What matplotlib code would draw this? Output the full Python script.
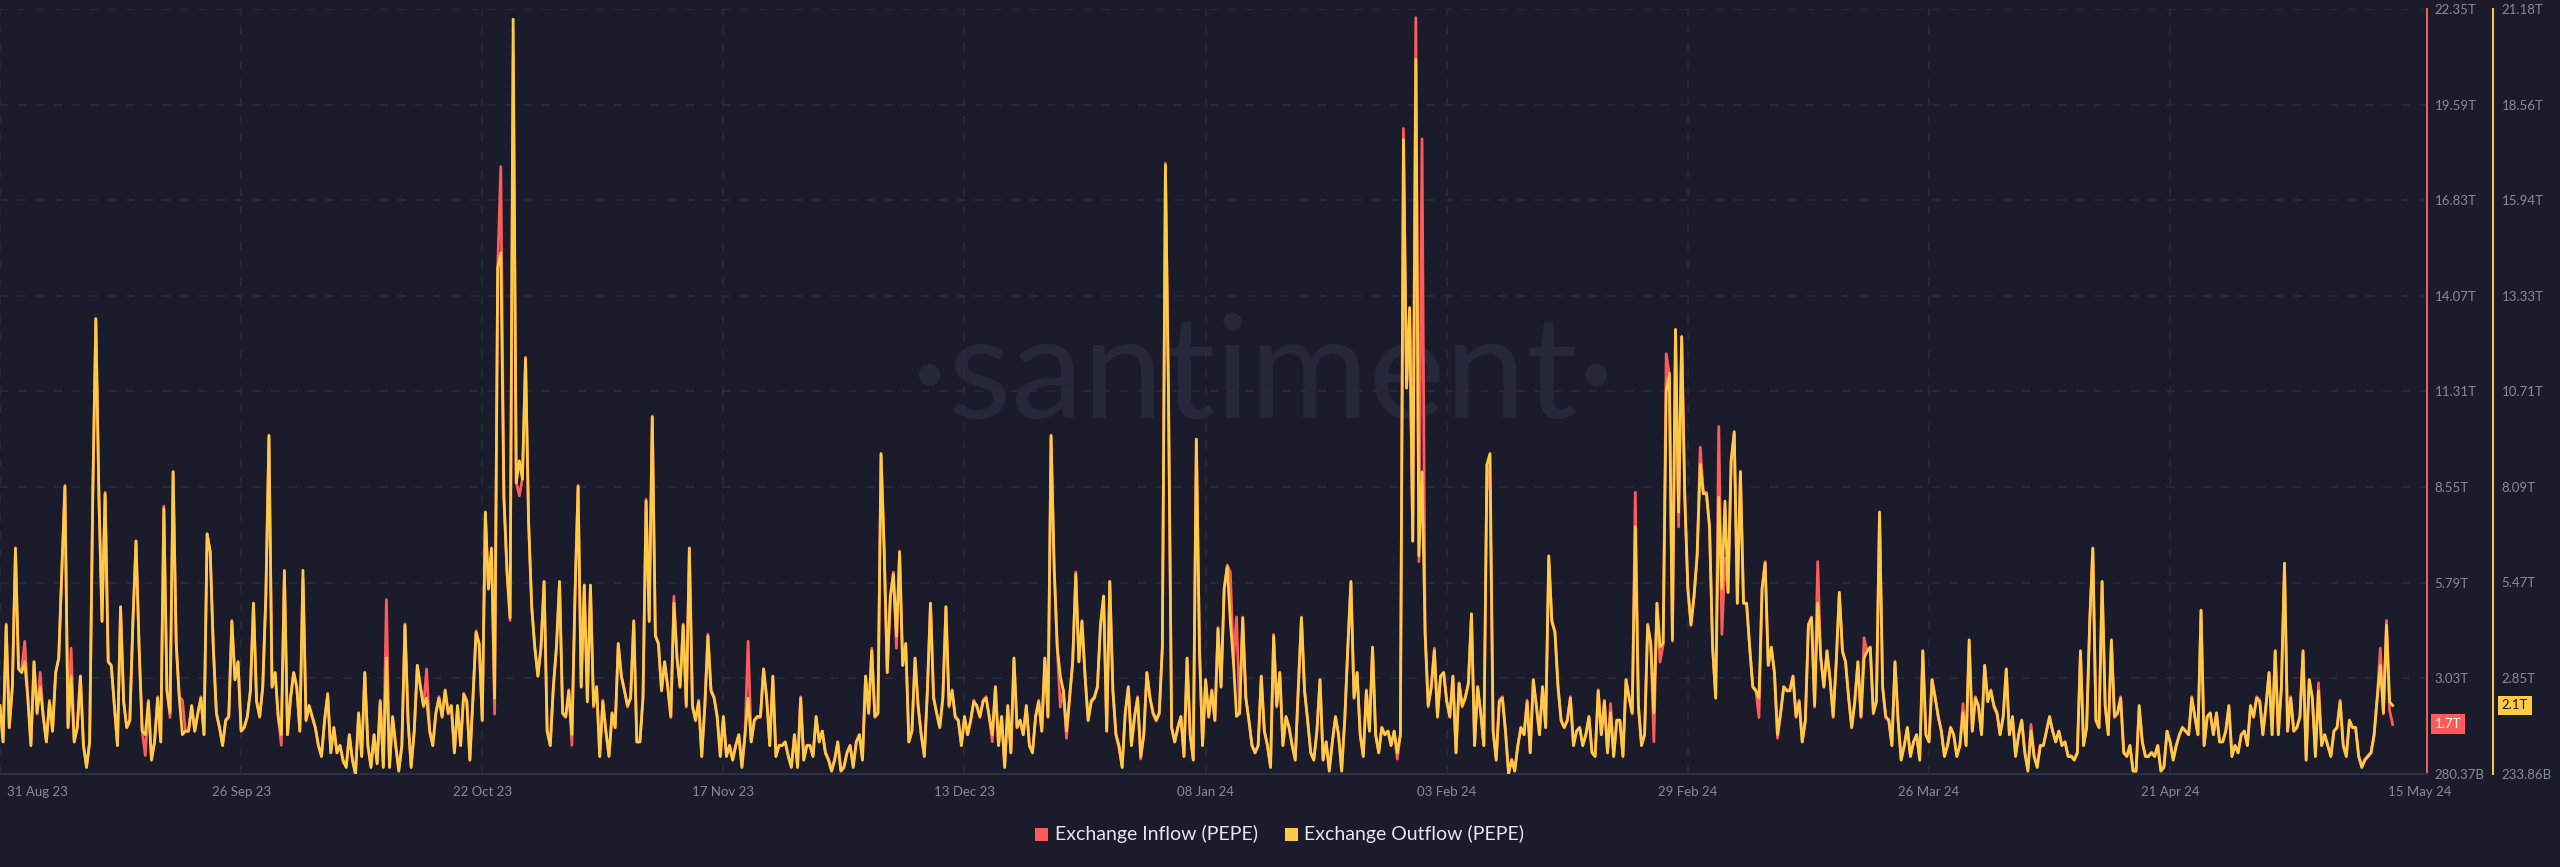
import numpy as np
import matplotlib
matplotlib.use("Agg")
import matplotlib.pyplot as plt
from matplotlib.transforms import blended_transform_factory
from matplotlib.patches import Rectangle

# ---------------- data (values in trillions of PEPE, 8-hour steps) ----------------
start_time = "2023-08-31T00:00"
step_hours = 8

outflow_T = [
    2.1,1.1,4.3,1.5,2.6,6.4,3.1,3.0,3.3,2.3,
    1.0,3.3,1.9,2.6,1.8,1.1,2.2,1.4,3.0,3.4,
    5.8,8.1,1.5,2.9,1.1,1.5,2.9,1.0,0.4,1.1,
    7.8,12.7,7.8,4.4,7.9,3.3,3.2,2.1,1.0,4.8,
    2.2,1.5,1.7,4.4,6.6,3.7,1.4,1.3,2.2,0.6,
    1.1,2.3,1.1,7.5,2.5,1.9,8.5,3.8,2.3,1.3,
    1.4,1.4,2.1,1.4,1.9,2.3,1.3,6.8,6.3,3.7,
    1.9,1.5,1.0,1.7,1.8,4.4,2.8,3.3,1.4,1.5,
    1.8,2.5,4.9,2.2,1.8,2.6,5.1,9.5,2.6,3.0,
    1.8,1.3,5.8,1.3,2.3,3.0,2.6,1.4,5.8,1.7,
    2.1,1.8,1.5,1.0,0.7,1.7,2.4,0.8,1.5,0.8,
    1.0,0.6,0.4,1.3,0.6,0.2,1.9,0.7,3.0,1.0,
    0.4,1.3,0.5,2.2,0.4,3.4,0.4,1.8,1.0,0.3,
    1.0,4.3,1.7,0.4,1.4,3.2,2.6,2.1,2.3,1.4,
    1.0,1.9,2.3,1.8,2.5,1.9,2.1,0.8,2.1,1.0,
    2.4,2.2,0.6,2.3,4.1,3.8,1.7,7.4,5.3,6.4,
    2.3,14.1,14.5,7.8,5.8,4.5,20.9,8.2,8.8,8.3,
    11.6,7.1,4.8,3.7,2.9,3.7,5.5,1.4,1.0,2.6,
    3.7,5.5,1.9,1.8,2.5,1.3,5.1,8.1,2.6,5.4,
    2.2,5.4,2.1,2.6,0.7,2.2,1.4,0.7,1.9,1.5,
    3.8,2.9,2.5,2.1,2.3,4.4,1.1,1.1,2.3,7.7,
    4.4,10.0,4.0,3.8,2.5,3.3,2.6,1.8,4.9,3.4,
    2.6,4.3,2.1,6.4,2.1,1.7,2.2,0.7,2.1,4.0,
    2.5,2.3,1.8,0.7,1.8,0.7,1.0,0.6,1.0,1.3,
    0.4,1.3,2.3,1.1,1.7,1.8,1.8,3.1,2.3,1.0,
    2.9,0.7,1.0,1.0,1.1,0.7,0.4,1.3,0.4,2.3,
    0.6,1.0,
    1.0,0.7,1.8,1.1,1.4,0.8,0.6,0.3,0.6,1.1,
    0.3,0.4,0.8,1.0,0.4,1.1,1.3,0.6,2.9,1.9,
    3.6,1.8,1.9,9.0,6.4,3.0,5.1,5.7,4.0,6.3,
    3.2,3.8,1.1,1.4,3.4,2.1,1.3,0.7,2.5,4.9,
    2.3,1.9,1.5,2.3,4.8,2.1,2.5,1.8,1.7,1.0,
    1.8,1.3,1.7,2.2,2.1,1.8,2.2,2.3,1.8,1.3,
    2.6,1.0,1.8,0.4,2.1,0.8,3.4,1.5,1.7,1.3,
    2.1,1.0,0.8,1.8,2.2,1.4,3.4,1.8,9.5,5.9,
    3.7,2.9,2.5,1.4,2.3,3.3,5.7,3.3,4.4,2.9,
    1.7,2.2,2.3,2.6,4.3,5.1,1.4,5.5,2.5,1.3,
    1.0,0.4,1.9,2.6,1.0,1.8,2.3,0.7,1.3,3.0,
    2.3,1.9,1.7,1.9,3.7,16.9,10.5,1.5,1.1,1.5,
    1.8,0.7,3.4,1.3,0.6,9.4,3.7,1.0,2.8,1.8,
    2.5,1.7,4.2,2.6,5.3,5.9,4.4,3.3,1.8,1.9,
    4.5,2.3,1.7,1.0,0.8,1.0,2.9,1.4,1.0,0.4,
    4.0,2.1,3.0,1.0,1.8,1.5,1.0,0.6,2.6,4.5,
    2.5,1.7,0.8,0.6,1.4,2.8,0.6,1.1,0.3,1.1,
    1.8,1.3,0.3,1.7,3.7,5.5,2.3,3.0,1.3,0.7,
    2.5,1.4,3.7,1.3,0.8,1.5,1.3,1.4,1.0,1.4,
    0.8,1.3,17.6,10.8,13.0,6.6,19.8,6.2,8.5,4.1,
    2.1,2.6,3.6,1.8,2.9,3.0,2.2,1.8,2.9,0.8,
    2.7,2.1,2.3,2.7,4.6,1.0,2.6,1.9,1.0,8.7,
    9.0,1.4,0.6,2.2,2.3,1.4,0.23,0.6,0.3,1.0,
    1.5,1.3,2.2,0.8,2.8,2.1,1.3,2.6,1.5,6.2,
    4.4,4.1,2.6,1.7,1.5,1.7,2.3,1.0,1.4,1.5,
    1.0,1.3,1.8,0.8,0.7,2.5,1.3,2.2,0.8,1.9,
    0.7,1.7,
    1.7,0.7,2.8,2.3,1.9,7.0,2.1,1.0,1.3,4.3,
    3.8,1.9,4.9,3.7,3.8,10.7,11.2,3.9,12.4,7.4,
    12.2,7.8,5.3,4.3,5.1,6.2,8.7,7.9,7.9,7.0,
    3.7,2.3,7.8,5.3,7.7,5.2,8.8,9.6,4.9,8.5,
    4.9,4.9,3.7,2.6,2.5,2.3,5.3,6.0,3.2,3.7,
    3.0,1.3,1.9,2.6,2.5,2.5,2.9,1.8,2.2,1.1,
    1.7,4.3,4.5,2.1,4.9,3.4,2.6,3.6,2.8,1.8,
    3.3,5.2,3.6,3.3,2.3,1.5,2.2,3.3,1.8,3.4,
    3.6,3.7,1.9,2.2,7.4,2.6,1.8,1.7,1.0,3.3,
    1.7,0.6,1.0,1.5,0.7,1.1,1.3,0.6,3.6,1.3,
    1.1,2.8,2.3,1.8,1.4,0.7,1.0,1.5,1.3,0.7,
    1.0,1.9,1.0,3.9,1.4,2.3,2.1,1.3,3.2,2.2,
    2.5,2.1,1.9,1.3,1.8,3.1,1.3,1.8,0.7,1.3,
    1.7,0.8,0.3,1.4,0.7,0.4,1.0,1.0,1.4,1.8,
    1.4,1.1,1.4,1.0,1.1,0.7,0.7,0.6,0.8,3.6,
    1.0,1.5,4.4,6.4,1.7,1.5,5.5,2.1,1.3,3.9,
    1.8,1.9,2.3,0.8,0.7,1.0,0.3,0.3,2.1,1.1,
    0.7,0.7,0.8,0.7,1.0,0.3,0.4,1.4,1.1,0.6,
    1.0,1.3,1.5,1.4,1.3,2.3,1.8,1.3,4.7,1.0,
    1.8,1.9,1.3,1.9,1.1,1.1,1.4,2.1,0.7,1.0,
    0.8,1.3,1.4,1.0,2.1,1.8,2.3,2.2,1.3,2.1,
    3.0,1.3,3.6,1.3,2.6,6.0,1.4,2.3,1.4,1.5,
    1.8,3.6,0.6,2.8,2.3,0.7,2.5,1.0,1.3,1.0,
    0.7,1.4,1.5,2.2,1.0,0.7,1.7,1.5,1.5,0.7,
    0.4,0.6,0.7,0.8,1.3,2.3,3.2,1.9,4.3,2.2,
    2.1,
]

inflow_T = [
    2.2,1.2,4.6,1.6,2.8,6.8,3.3,3.3,4.1,2.5,
    1.1,3.5,2.0,3.2,1.9,1.2,2.4,1.5,3.2,3.6,
    6.1,8.6,1.6,3.9,1.2,1.6,3.1,1.1,0.5,1.2,
    8.3,13.4,8.3,4.7,8.4,3.5,3.4,2.2,1.1,5.1,
    2.4,1.6,1.8,4.7,7.0,3.9,1.5,0.8,2.4,0.7,
    1.2,2.5,1.2,8.0,2.7,1.9,9.0,4.0,2.5,2.4,
    1.5,1.5,2.2,1.5,2.0,2.5,1.4,7.2,6.7,3.9,
    2.0,1.6,1.1,1.8,1.9,4.7,3.0,3.5,1.5,1.6,
    1.9,2.7,5.2,2.4,1.9,2.8,5.4,10.0,2.8,3.2,
    1.9,1.1,6.1,1.4,2.5,3.2,2.8,1.5,5.9,1.8,
    2.2,1.9,1.6,1.1,0.8,1.8,2.6,0.9,1.6,0.9,
    1.1,0.6,0.5,1.4,0.7,0.3,2.0,0.8,3.2,1.1,
    0.5,1.4,0.6,2.4,0.5,5.3,0.5,1.9,1.1,0.4,
    1.1,4.6,1.8,0.5,1.5,3.4,2.8,2.2,3.3,1.5,
    1.1,2.0,2.5,1.9,2.7,2.0,2.2,0.9,2.2,1.1,
    2.6,2.4,0.7,2.5,4.4,4.0,1.8,7.8,5.6,6.8,
    2.0,14.9,17.8,8.3,6.1,4.7,21.0,8.7,8.3,8.8,
    12.3,7.5,5.1,3.9,3.1,3.9,5.8,1.5,1.1,2.8,
    3.9,5.8,2.0,1.9,2.7,1.1,5.4,8.6,2.8,5.7,
    2.4,5.7,2.2,2.8,0.8,2.4,1.5,0.8,2.0,1.6,
    4.0,3.1,2.7,2.2,2.5,4.7,1.2,1.2,2.5,8.2,
    4.7,10.6,4.3,4.0,2.7,3.5,2.8,1.9,5.4,3.6,
    2.8,4.6,2.2,6.8,2.2,1.8,2.4,0.8,2.2,4.3,
    2.7,2.5,1.9,0.8,1.9,0.8,1.1,0.7,1.1,1.4,
    0.5,1.4,4.1,1.2,1.8,1.9,1.9,3.3,2.5,1.1,
    3.1,0.8,1.1,1.1,1.2,0.8,0.5,1.4,0.5,2.5,
    0.7,1.1,
    1.1,0.8,1.9,1.2,1.5,0.9,0.7,0.4,0.7,1.2,
    0.4,0.5,0.9,1.1,0.5,1.2,1.4,0.7,3.1,2.0,
    3.9,1.9,2.0,9.5,6.8,3.2,5.3,6.1,3.9,6.7,
    3.4,4.0,1.2,1.5,3.6,2.2,1.4,0.8,2.7,5.2,
    2.5,2.0,1.6,2.5,5.1,2.2,2.7,1.9,1.8,1.1,
    1.9,1.4,1.8,2.4,2.2,1.9,2.4,2.5,1.9,1.2,
    2.8,1.1,1.9,0.5,2.2,0.9,3.6,1.6,1.8,1.4,
    2.2,1.1,0.9,1.9,2.4,1.5,3.6,1.9,10.0,6.2,
    3.9,2.2,2.7,1.3,2.5,3.5,6.1,3.5,4.7,3.1,
    1.8,2.4,2.5,2.8,4.6,5.4,1.5,5.8,2.7,1.4,
    1.0,0.5,2.0,2.8,1.1,1.9,2.5,0.7,1.4,3.2,
    2.5,2.0,1.8,2.0,3.9,17.9,11.1,1.6,1.2,1.6,
    1.9,0.8,3.6,1.4,0.7,9.9,3.9,1.1,3.0,1.9,
    2.7,1.8,4.5,2.8,5.6,6.3,6.1,3.5,4.8,2.0,
    4.8,2.5,1.8,1.1,0.9,1.1,3.1,1.5,1.1,0.5,
    4.3,2.2,3.2,1.1,1.9,1.6,1.1,0.7,2.8,4.8,
    2.7,1.8,0.9,0.7,1.5,3.0,0.7,1.2,0.4,1.2,
    1.9,1.4,0.4,1.8,3.9,5.8,2.5,3.2,1.4,0.8,
    2.7,1.5,3.9,1.4,0.9,1.6,1.4,1.5,1.1,1.5,
    0.7,1.4,18.9,11.4,13.7,7.0,22.1,6.4,18.6,4.3,
    2.2,2.8,3.9,1.9,3.1,3.2,2.4,1.9,3.1,0.9,
    2.9,2.2,2.5,2.9,4.9,1.1,2.8,2.0,1.1,9.2,
    8.4,1.5,0.7,2.4,2.5,1.5,0.3,0.7,0.4,1.1,
    1.6,1.4,2.4,0.9,3.0,2.2,1.4,2.8,1.6,6.5,
    4.7,4.4,2.8,1.8,1.6,1.8,2.5,1.1,1.5,1.6,
    1.1,1.4,1.9,0.9,0.8,2.7,1.4,2.4,0.9,2.3,
    0.8,1.8,
    1.8,0.8,3.0,2.5,2.0,8.4,2.2,1.1,1.4,4.6,
    4.0,1.2,5.2,3.5,4.0,12.4,11.8,4.1,13.1,7.4,
    12.9,8.3,5.6,4.6,5.4,6.6,9.7,8.4,8.4,7.4,
    3.9,2.5,10.3,4.3,6.5,5.5,9.3,10.1,5.2,9.0,
    5.2,5.2,3.9,2.8,2.7,1.9,5.6,6.4,3.4,3.9,
    3.2,1.3,2.0,2.8,2.7,2.7,3.1,1.9,2.4,1.2,
    1.8,4.6,4.8,2.2,6.4,3.6,2.8,3.8,3.0,1.9,
    3.5,5.5,3.8,3.5,2.5,1.6,2.4,3.5,1.9,4.2,
    3.8,3.9,2.0,2.4,7.8,2.8,1.9,1.8,1.1,3.5,
    1.8,0.7,1.1,1.6,0.8,1.2,1.4,0.7,3.8,1.4,
    1.2,3.0,2.5,1.9,1.5,0.8,1.1,1.6,1.4,0.8,
    1.1,2.3,1.1,4.1,1.5,2.5,2.2,1.4,3.4,2.4,
    2.7,2.2,2.0,1.4,1.9,3.3,1.4,1.9,0.8,1.4,
    1.8,0.9,0.4,1.7,0.8,0.5,1.1,1.1,1.5,1.9,
    1.5,1.2,1.5,1.1,1.2,0.8,0.8,0.7,0.9,3.8,
    1.1,1.6,4.7,6.8,1.8,1.6,5.8,2.2,1.4,4.1,
    1.9,2.0,2.5,0.9,0.8,1.1,0.4,0.4,2.2,1.2,
    0.8,0.8,0.9,0.8,1.1,0.4,0.5,1.5,1.2,0.7,
    1.1,1.4,1.6,1.5,1.4,2.5,1.9,1.4,5.0,1.1,
    1.9,2.0,1.4,2.0,1.2,1.2,1.5,2.2,0.8,1.1,
    0.9,1.4,1.5,1.1,2.2,1.9,2.5,2.4,1.4,2.2,
    3.2,1.4,3.8,1.4,2.8,6.3,1.5,2.5,1.5,1.6,
    1.9,3.8,0.7,3.0,2.5,0.8,2.9,1.1,1.4,1.1,
    0.8,1.5,1.6,2.4,1.1,0.8,1.8,1.6,1.6,0.8,
    0.5,0.7,0.8,0.9,1.4,2.5,3.9,2.0,4.7,2.1,
    1.7,
]

inflow_ticks = [0.28037, 3.03, 5.79, 8.55, 11.31, 14.07, 16.83, 19.59, 22.35]
inflow_tick_labels = ["280.37B", "3.03T", "5.79T", "8.55T", "11.31T",
                      "14.07T", "16.83T", "19.59T", "22.35T"]
outflow_ticks = [0.23386, 2.85, 5.47, 8.09, 10.71, 13.33, 15.94, 18.56, 21.18]
outflow_tick_labels = ["233.86B", "2.85T", "5.47T", "8.09T", "10.71T",
                       "13.33T", "15.94T", "18.56T", "21.18T"]

date_ticks = ["2023-08-31", "2023-09-26", "2023-10-22", "2023-11-17", "2023-12-13",
              "2024-01-08", "2024-02-03", "2024-02-29", "2024-03-26", "2024-04-21"]
date_labels = ["31 Aug 23", "26 Sep 23", "22 Oct 23", "17 Nov 23", "13 Dec 23",
               "08 Jan 24", "03 Feb 24", "29 Feb 24", "26 Mar 24", "21 Apr 24"]
last_date_label = "15 May 24"

legend_labels = ["Exchange Inflow (PEPE)", "Exchange Outflow (PEPE)"]
inflow_badge = "1.7T"
outflow_badge = "2.1T"

# ---------------- styling ----------------
bg = "#1b1c2b"
red = "#ff5b5b"
yellow = "#ffcb47"
grid_c = "#292b40"
tick_c = "#868a9e"

plt.rcParams["font.family"] = ["Lato", "DejaVu Sans"]
plt.rcParams["lines.scale_dashes"] = False

W, H = 2560, 867
fig = plt.figure(figsize=(W / 100, H / 100), dpi=100)
fig.patch.set_facecolor(bg)

x_right = 2427
y_top, y_bot = 9, 773.6
ax = fig.add_axes([0, 1 - y_bot / H, x_right / W, (y_bot - y_top) / H])
ax.set_facecolor(bg)
ax2 = ax.twinx()

t0 = np.datetime64(start_time)
t_in = t0 + np.arange(len(inflow_T)) * np.timedelta64(step_hours, "h")
t_out = t0 + np.arange(len(outflow_T)) * np.timedelta64(step_hours, "h")

ax.plot(t_in, inflow_T, color=red, lw=2.0, solid_joinstyle="round", zorder=3)
ax2.plot(t_out, outflow_T, color=yellow, lw=2.0, solid_joinstyle="round", zorder=3)

xstart = np.datetime64("2023-08-31T00:00")
xend = xstart + np.timedelta64(int(261.7 * 24 * 60), "m")
ax.set_xlim(xstart, xend)
ax.set_ylim(inflow_ticks[0], inflow_ticks[-1])
ax2.set_ylim(outflow_ticks[0], outflow_ticks[-1])

# grid
for y in inflow_ticks[1:]:
    ax.axhline(y, color=grid_c, lw=1.1, ls=(0, (6, 7)), zorder=1)
for d in date_ticks:
    ax.axvline(np.datetime64(d), color=grid_c, lw=1.1, ls=(0, (6, 7)), zorder=1)

# watermark
ax.text(1263 / x_right, (y_bot - 378) / (y_bot - y_top), "\u00b7santiment\u00b7",
        transform=ax.transAxes, ha="center", va="center", fontsize=104,
        color="#25273a", fontweight="normal", zorder=0.5)

# spines
for a in (ax, ax2):
    a.spines["top"].set_visible(False)
    a.spines["left"].set_visible(False)
ax2.spines["bottom"].set_visible(False)
ax.spines["bottom"].set_color("#2c2f45")
ax.spines["bottom"].set_linewidth(1.5)
ax.spines["right"].set_color(red)
ax.spines["right"].set_linewidth(1.4)
ax2.spines["right"].set_color(yellow)
ax2.spines["right"].set_linewidth(1.4)
ax2.spines["right"].set_position(("axes", 2493 / x_right))

ax.yaxis.tick_right()
ax.set_yticks(inflow_ticks)
ax.set_yticklabels(inflow_tick_labels)
ax2.set_yticks(outflow_ticks)
ax2.set_yticklabels(outflow_tick_labels)
ax.tick_params(axis="y", length=0, pad=5.5, labelsize=9.5, labelcolor=tick_c)
ax2.tick_params(axis="y", length=0, pad=6.2, labelsize=9.5, labelcolor=tick_c)
ax.set_xticks([])
ax2.set_xticks([])

# date labels
trans = blended_transform_factory(ax.transData, ax.transAxes)
ylab = (y_bot - 792) / (y_bot - y_top)
for d, lab in zip(date_ticks, date_labels):
    if d == date_ticks[0]:
        ax.text(7 / x_right, ylab, lab, transform=ax.transAxes, ha="left", va="center",
                fontsize=9.5, color=tick_c)
    else:
        ax.text(np.datetime64(d), ylab, lab, transform=trans, ha="center", va="center",
                fontsize=9.5, color=tick_c)
ax.text(2420 / x_right, ylab, last_date_label, transform=ax.transAxes, ha="center",
        va="center", fontsize=9.5, color=tick_c, clip_on=False)

# last value badges
tr_in = blended_transform_factory(ax.transAxes, ax.transData)
tr_out = blended_transform_factory(ax2.transAxes, ax2.transData)
ax.text(2448 / x_right, inflow_T[-1], inflow_badge, transform=tr_in, ha="center", va="center",
        fontsize=9.5, color="white", clip_on=False, zorder=10,
        bbox=dict(boxstyle="square,pad=0.3", fc=red, ec="none"))
ax2.text(2515 / x_right, outflow_T[-1], outflow_badge, transform=tr_out, ha="center",
         va="center", fontsize=9.5, color=bg, clip_on=False, zorder=10,
         bbox=dict(boxstyle="square,pad=0.3", fc=yellow, ec="none"))

# legend
leg_y = 1 - 834 / H
sq = 13
fig.patches.append(Rectangle((1035 / W, leg_y - sq / 2 / H), sq / W, sq / H,
                             transform=fig.transFigure, fc=red, ec="none"))
fig.text(1055 / W, leg_y, legend_labels[0], ha="left", va="center", fontsize=14,
         color="#e6e6ee")
fig.patches.append(Rectangle((1285 / W, leg_y - sq / 2 / H), sq / W, sq / H,
                             transform=fig.transFigure, fc=yellow, ec="none"))
fig.text(1304 / W, leg_y, legend_labels[1], ha="left", va="center", fontsize=14,
         color="#e6e6ee")

fig.savefig("out.png", dpi=100, facecolor=bg)
